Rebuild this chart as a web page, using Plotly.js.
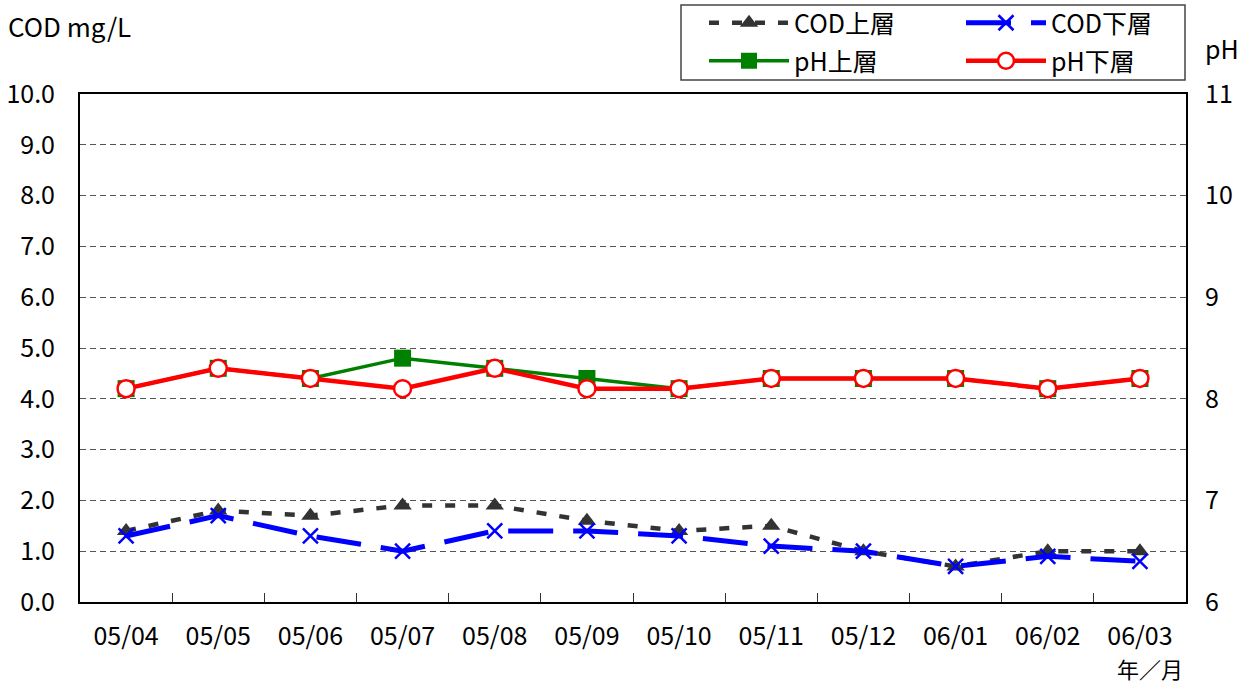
<!DOCTYPE html>
<html><head><meta charset="utf-8">
<script src="https://cdn.plot.ly/plotly-3.0.1.min.js"></script>
<style>body{margin:0;background:#fff}#chart{width:1245px;height:684px}</style>
</head><body><div id="chart"></div>
<script>
const categories = ["05/04","05/05","05/06","05/07","05/08","05/09","05/10","05/11","05/12","06/01","06/02","06/03"];
const codUpper = [1.4, 1.8, 1.7, 1.9, 1.9, 1.6, 1.4, 1.5, 1.0, 0.7, 1.0, 1.0];
const codLower = [1.3, 1.7, 1.3, 1.0, 1.4, 1.4, 1.3, 1.1, 1.0, 0.7, 0.9, 0.8];
const phUpper  = [8.1, 8.3, 8.2, 8.4, 8.3, 8.2, 8.1, 8.2, 8.2, 8.2, 8.1, 8.2];
const phLower  = [8.1, 8.3, 8.2, 8.1, 8.3, 8.1, 8.1, 8.2, 8.2, 8.2, 8.1, 8.2];
const codTicks = [0,1,2,3,4,5,6,7,8,9,10];
const phTicks = [6,7,8,9,10,11];

const FONT = '"Noto Sans CJK JP", "Noto Sans", sans-serif';
const FS = 25;

const traces = [
  {name:'COD上層', x:categories, y:codUpper, type:'scatter', mode:'lines+markers', yaxis:'y', legend:'legend',
   line:{color:'#333333', width:4.5, dash:'10px,13px'}, marker:{symbol:'triangle-up', size:16, color:'#333333'}},
  {name:'COD下層', x:categories, y:codLower, type:'scatter', mode:'lines+markers', yaxis:'y', legend:'legend',
   line:{color:'#0000FF', width:5, dash:'45px,20px'}, marker:{symbol:'x-thin', size:15, color:'#0000FF', line:{color:'#0000FF', width:2.5}}},
  {name:'pH上層', x:categories, y:phUpper, type:'scatter', mode:'lines+markers', yaxis:'y2', legend:'legend2',
   line:{color:'#008000', width:3.5}, marker:{symbol:'square', size:17, color:'#008000'}},
  {name:'pH下層', x:categories, y:phLower, type:'scatter', mode:'lines+markers', yaxis:'y2', legend:'legend2',
   line:{color:'#FF0000', width:4.5}, marker:{symbol:'circle', size:17, color:'#FFFFFF', line:{color:'#FF0000', width:2.5}}}
];

const plotL = 80, plotR = 1186, plotT = 94, plotB = 602;
const W = 1245, H = 684;
const pw = plotR - plotL, ph = plotB - plotT;
const px = v => (v - plotL) / pw;
const py = v => (plotB - v) / ph;

const layout = {
  width: W, height: H,
  margin: {l: plotL, r: W - plotR, t: plotT, b: H - plotB, pad: 0, autoexpand: false},
  paper_bgcolor: '#fff', plot_bgcolor: '#fff',
  font: {family: FONT, size: FS, color: '#000'},
  showlegend: true,
  xaxis: {
    type: 'category', showgrid: false, zeroline: false,
    showline: true, mirror: true, linecolor: '#000', linewidth: 2,
    ticks: 'inside', tickson: 'boundaries', ticklen: 9, tickcolor: '#333', tickwidth: 1,
    ticklabelstandoff: 11, tickfont: {size: FS, family: FONT},
    range: [-0.5, 11.5]
  },
  yaxis: {
    range: [0, 10], tickvals: codTicks, tickformat: '.1f', ticks: '',
    showgrid: true, gridcolor: '#555', griddash: '6px,4px', gridwidth: 1,
    zeroline: false, showline: true, mirror: true, linecolor: '#000', linewidth: 2,
    ticklabelstandoff: 18, tickfont: {size: FS, family: FONT}
  },
  yaxis2: {
    range: [6, 11], tickvals: phTicks, overlaying: 'y', side: 'right', ticks: '',
    showgrid: false, zeroline: false, showline: false,
    ticklabelstandoff: 18, tickfont: {size: FS, family: FONT}
  },
  legend: {
    orientation: 'h', x: px(704), y: py(23), xanchor: 'left', yanchor: 'middle',
    entrywidth: 162, entrywidthmode: 'pixels', bgcolor: 'rgba(0,0,0,0)', borderwidth: 0,
    font: {size: FS, family: FONT}, itemwidth: 80
  },
  legend2: {
    orientation: 'h', x: px(704), y: py(61), xanchor: 'left', yanchor: 'middle',
    entrywidth: 162, entrywidthmode: 'pixels', bgcolor: 'rgba(0,0,0,0)', borderwidth: 0,
    font: {size: FS, family: FONT}, itemwidth: 80
  },
  shapes: [
    {type: 'rect', xref: 'paper', yref: 'paper', x0: px(681), x1: px(1185), y0: py(80), y1: py(5),
     line: {color: '#444', width: 1.5}, fillcolor: 'rgba(0,0,0,0)', layer: 'below'}
  ],
  annotations: [
    {text: 'COD mg/L', xref: 'paper', yref: 'paper', x: px(6), y: py(25), xanchor: 'left', yanchor: 'middle',
     showarrow: false, font: {size: 26, family: FONT}},
    {text: 'pH', xref: 'paper', yref: 'paper', x: px(1203), y: py(48), xanchor: 'left', yanchor: 'middle',
     showarrow: false, font: {size: FS, family: FONT}},
    {text: '年／月', xref: 'paper', yref: 'paper', x: px(1150), y: py(668), xanchor: 'center', yanchor: 'middle',
     showarrow: false, font: {size: 22, family: FONT}}
  ]
};

Plotly.newPlot('chart', traces, layout, {displayModeBar: false, staticPlot: true});
</script></body></html>
